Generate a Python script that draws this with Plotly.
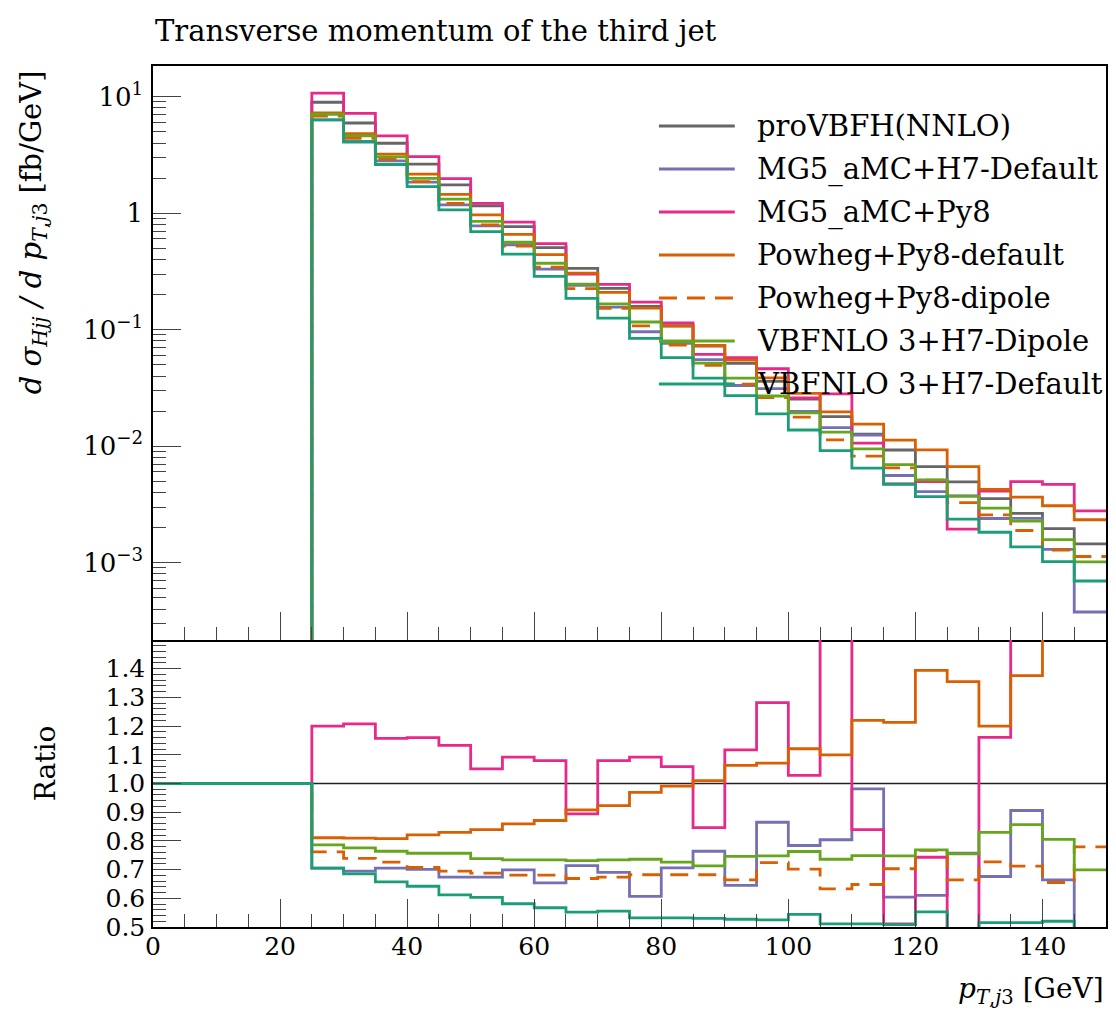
import plotly.graph_objects as go

# ---------------- data ----------------
BIN_EDGES = [0, 5, 10, 15, 20, 25, 30, 35, 40, 45, 50, 55, 60, 65, 70, 75,
             80, 85, 90, 95, 100, 105, 110, 115, 120, 125, 130, 135, 140, 145, 150]

# proVBFH(NNLO) reference cross section per bin [fb/GeV]
REF_XS = [0, 0, 0, 0, 0,
          8.95, 5.94, 3.98, 2.63, 1.746, 1.153, 0.766, 0.506, 0.336, 0.2265,
          0.158, 0.108, 0.0724, 0.0514, 0.0360, 0.0253, 0.0179, 0.01265, 0.00927, 0.00667,
          0.00493, 0.00354, 0.00265, 0.00196, 0.00145]

# ratios to proVBFH(NNLO)
RATIO_MG5_H7 = [1.0, 1.0, 1.0, 1.0, 1.0,
                0.705, 0.695, 0.705, 0.701, 0.674, 0.674, 0.699, 0.654, 0.714, 0.690,
                0.607, 0.706, 0.764, 0.645, 0.865, 0.784, 0.804, 0.981, 0.604, 0.610,
                0.757, 0.676, 0.906, 0.664, 0.26]
RATIO_MG5_PY8 = [1.0, 1.0, 1.0, 1.0, 1.0,
                 1.200, 1.208, 1.157, 1.160, 1.133, 1.051, 1.092, 1.080, 0.894, 1.080,
                 1.092, 1.059, 0.846, 1.117, 1.282, 1.028, 1.57, 0.839, 0.511, 0.743,
                 0.394, 1.161, 1.87, 2.40, 1.92]
RATIO_POW_DEF = [1.0, 1.0, 1.0, 1.0, 1.0,
                 0.811, 0.810, 0.808, 0.821, 0.830, 0.839, 0.859, 0.871, 0.908, 0.923,
                 0.969, 0.991, 1.010, 1.063, 1.071, 1.121, 1.100, 1.220, 1.213, 1.394,
                 1.355, 1.200, 1.376, 1.57, 1.61]
RATIO_POW_DIP = [1.0, 1.0, 1.0, 1.0, 1.0,
                 0.762, 0.739, 0.726, 0.708, 0.695, 0.688, 0.681, 0.681, 0.669, 0.674,
                 0.682, 0.682, 0.682, 0.664, 0.724, 0.702, 0.633, 0.648, 0.703, 0.767,
                 0.664, 0.727, 0.712, 0.655, 0.779]
RATIO_VBF_DIP = [1.0, 1.0, 1.0, 1.0, 1.0,
                 0.786, 0.776, 0.764, 0.757, 0.757, 0.738, 0.734, 0.734, 0.731, 0.734,
                 0.736, 0.726, 0.713, 0.746, 0.748, 0.763, 0.736, 0.749, 0.748, 0.769,
                 0.755, 0.830, 0.857, 0.805, 0.699]
RATIO_VBF_DEF = [1.0, 1.0, 1.0, 1.0, 1.0,
                 0.705, 0.685, 0.657, 0.642, 0.612, 0.603, 0.581, 0.567, 0.552, 0.555,
                 0.532, 0.532, 0.530, 0.527, 0.525, 0.544, 0.511, 0.511, 0.508, 0.553,
                 0.48, 0.515, 0.515, 0.52, 0.48]
RATIO_REF = [1.0] * 30

SERIES_NAMES = ["proVBFH(NNLO)", "MG5_aMC+H7-Default", "MG5_aMC+Py8",
                "Powheg+Py8-default", "Powheg+Py8-dipole",
                "VBFNLO 3+H7-Dipole", "VBFNLO 3+H7-Default"]
SERIES_RATIOS = [RATIO_REF, RATIO_MG5_H7, RATIO_MG5_PY8, RATIO_POW_DEF,
                 RATIO_POW_DIP, RATIO_VBF_DIP, RATIO_VBF_DEF]
COLORS = ["#666666", "#7570b3", "#e7298a", "#d95f02", "#d95f02", "#66a61e", "#1b9e77"]
DASHES = ["solid", "solid", "solid", "solid", "18px,10px", "solid", "solid"]

Y_TICKS = [1e-3, 1e-2, 1e-1, 1, 10]
Y_TICKTEXT = ["10<sup>−3</sup>", "10<sup>−2</sup>", "10<sup>−1</sup>", "1", "10<sup>1</sup>"]
R_TICKS = [0.5, 0.6, 0.7, 0.8, 0.9, 1.0, 1.1, 1.2, 1.3, 1.4]
R_TICKTEXT = ["0.5", "0.6", "0.7", "0.8", "0.9", "1.0", "1.1", "1.2", "1.3", "1.4"]

# ---------------- figure ----------------
FONT = "DejaVu Serif"
W, H = 1116, 1020
PL, PR, PT, PB = 153, 1108, 66, 927


def fx(px):
    return (px - PL) / (PR - PL)


def fy(py):
    return (PB - py) / (PB - PT)


SPLIT = fy(640)

fig = go.Figure()

for name, ratio, col, dash in zip(SERIES_NAMES, SERIES_RATIOS, COLORS, DASHES):
    xs = [r * REF_XS[i] for i, r in enumerate(ratio)]
    # zero bins are pushed far below the visible log range so the step drops off-axis
    xs_disp = [v if v > 0 else 1e-12 for v in xs]
    fig.add_trace(go.Scatter(
        x=BIN_EDGES, y=xs_disp + [xs_disp[-1]], mode="lines", line_shape="hv",
        line=dict(color=col, width=2.8, dash=dash), name=name, showlegend=False,
        xaxis="x", yaxis="y"))

for name, ratio, col, dash in zip(SERIES_NAMES, SERIES_RATIOS, COLORS, DASHES):
    is_ref = name == SERIES_NAMES[0]
    fig.add_trace(go.Scatter(
        x=BIN_EDGES, y=ratio + [ratio[-1]], mode="lines", line_shape="hv",
        line=dict(color="#222222" if is_ref else col, width=1.3 if is_ref else 2.8, dash=dash),
        name=name, showlegend=False, xaxis="x2", yaxis="y2"))

minor_log = [m * 10 ** e for e in range(-4, 2) for m in range(2, 10)]

tickfont = dict(family=FONT, size=25, color="black")
TICKC = "#444444"


def xaxis_cfg(**kw):
    d = dict(range=[0, 150], tick0=0, dtick=20, ticks="inside", ticklen=28,
             tickwidth=1.3, tickcolor=TICKC, showline=True, linecolor="black",
             linewidth=1.5, showgrid=False, zeroline=False,
             minor=dict(ticks="inside", dtick=5, tick0=0, ticklen=13,
                        tickwidth=1.3, tickcolor=TICKC, showgrid=False))
    d.update(kw)
    return d


fig.update_layout(
    width=W, height=H, plot_bgcolor="white", paper_bgcolor="white",
    margin=dict(l=PL, r=W - PR, t=PT, b=H - PB),
    showlegend=False,
    xaxis=xaxis_cfg(domain=[0, 1], anchor="y", showticklabels=False, mirror=True),
    yaxis=dict(domain=[SPLIT, 1], anchor="x", type="log",
               range=[-3.664, 1.263], tickmode="array", tickvals=Y_TICKS,
               ticktext=Y_TICKTEXT, ticks="inside", ticklen=28, tickwidth=1.3,
               tickcolor=TICKC, tickfont=dict(family=FONT, size=26, color="black"),
               ticklabelstandoff=3,
               showline=True, linecolor="black", linewidth=1.5, mirror=True,
               showgrid=False, zeroline=False,
               minor=dict(ticks="inside", tickmode="array", tickvals=minor_log,
                          ticklen=13, tickwidth=1.3, tickcolor=TICKC, showgrid=False)),
    xaxis2=xaxis_cfg(domain=[0, 1], anchor="y2", tickfont=tickfont,
                     ticklabelstandoff=-4, mirror=False),
    yaxis2=dict(domain=[0, SPLIT], anchor="x2", range=[0.5, 1.5],
                tickmode="array", tickvals=R_TICKS, ticktext=R_TICKTEXT,
                ticks="inside", ticklen=28, tickwidth=1.3, tickcolor=TICKC,
                tickfont=tickfont, ticklabelstandoff=1,
                showline=True, linecolor="black", linewidth=1.5, mirror=True,
                showgrid=False, zeroline=False,
                minor=dict(ticks="inside", dtick=0.02, tick0=0.5, ticklen=13,
                           tickwidth=1.3, tickcolor=TICKC, showgrid=False)),
)

annotations = []
shapes = []

# title
annotations.append(dict(text="Transverse momentum of the third jet", xref="paper", yref="paper",
                        x=0, y=1, xanchor="left", yanchor="bottom", yshift=16,
                        showarrow=False, font=dict(family=FONT, size=29, color="black")))
# y axis title (top panel)
annotations.append(dict(text="<i>d σ</i><sub><i>Hjj</i></sub><i> / d p</i><sub><i>T</i>,<i>j</i>3</sub> [fb/GeV]",
                        xref="paper", yref="paper", x=fx(33), y=fy(68),
                        xanchor="center", yanchor="top", textangle=-90,
                        showarrow=False, font=dict(family=FONT, size=29, color="black")))
# ratio axis title
annotations.append(dict(text="Ratio", xref="paper", yref="paper", x=fx(45), y=fy(764),
                        xanchor="center", yanchor="middle", textangle=-90,
                        showarrow=False, font=dict(family=FONT, size=28, color="black")))
# x axis title
annotations.append(dict(text="<i>p</i><sub><i>T</i>,<i>j</i>3</sub> [GeV]", xref="paper", yref="paper",
                        x=1, y=fy(990), xanchor="right", yanchor="middle",
                        showarrow=False, font=dict(family=FONT, size=28, color="black")))

# legend
LEG_Y0, LEG_DY = 126, 43
for i, (name, col, dash) in enumerate(zip(SERIES_NAMES, COLORS, DASHES)):
    ly = LEG_Y0 + i * LEG_DY
    shapes.append(dict(type="line", xref="paper", yref="paper",
                       x0=fx(660), x1=fx(736), y0=fy(ly), y1=fy(ly),
                       line=dict(color=col, width=2.8, dash=dash)))
    annotations.append(dict(text=name, xref="paper", yref="paper", x=fx(756), y=fy(ly),
                            xanchor="left", yanchor="middle", showarrow=False,
                            font=dict(family=FONT, size=29, color="black")))

fig.update_layout(annotations=annotations, shapes=shapes)

fig.write_html("out.html", config={"displayModeBar": False},
               post_script="document.body.style.margin='0';document.body.style.overflow='hidden';")
